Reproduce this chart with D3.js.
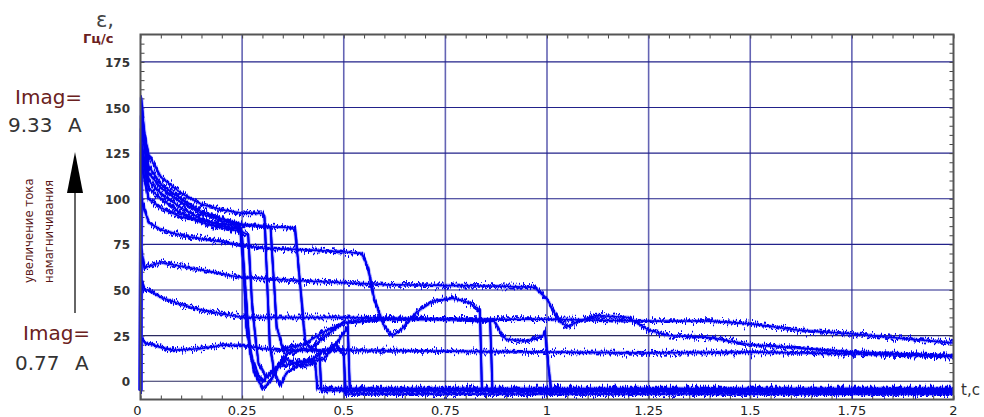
<!doctype html>
<html lang="ru">
<head>
<meta charset="UTF-8" />
<title>epsilon(t)</title>
<script src="https://d3js.org/d3.v7.min.js"></script>
<style>
  body { margin: 0; background: #fff; }
</style>
</head>
<body>
<div id="chart"></div>
<script>
// tick values
var xTicks = [0, 0.25, 0.5, 0.75, 1, 1.25, 1.5, 1.75, 2];
var xTickLabels = ['0', '0.25', '0.5', '0.75', '1', '1.25', '1.5', '1.75', '2'];
var yTicks = [0, 25, 50, 75, 100, 125, 150, 175];

// curves [t, eps], highest current first
var curve1 = [[0, -5], [0.002, 155], [0.01, 135], [0.02, 124], [0.05, 112], [0.1, 103], [0.15, 97], [0.2, 94], [0.25, 92], [0.3, 92], [0.305, 90], [0.318, 20], [0.33, 4], [0.345, -2], [0.36, 5], [0.4, 10], [0.45, 12], [0.48, 20], [0.505, 28], [0.51, 30], [0.515, -5], [1, -5], [2, -5]];
var curve2 = [[0, -5], [0.002, 145], [0.02, 118], [0.05, 108], [0.1, 100], [0.15, 93], [0.2, 89], [0.25, 86], [0.3, 85], [0.38, 84], [0.39, 60], [0.405, 22], [0.42, 18], [0.45, 24], [0.5, 32], [0.6, 34], [0.75, 34], [0.86, 33], [0.866, -5], [2, -6]];
var curve3 = [[0, -5], [0.002, 138], [0.02, 114], [0.05, 106], [0.1, 98], [0.15, 92], [0.2, 88], [0.24, 86], [0.25, 80], [0.26, 30], [0.28, 5], [0.3, -4], [0.32, 0], [0.34, 8], [0.38, 10], [0.42, 12], [0.44, 15], [0.445, -5], [2, -5]];
var curve4 = [[0, -5], [0.002, 130], [0.02, 110], [0.05, 103], [0.1, 95], [0.15, 89], [0.2, 85], [0.245, 83], [0.255, 60], [0.27, 15], [0.29, 3], [0.3, 0], [0.32, 5], [0.36, 12], [0.4, 8], [0.43, 10], [0.435, -4], [2, -4]];
var curve5 = [[0, -5], [0.002, 125], [0.02, 106], [0.05, 100], [0.1, 92], [0.15, 87], [0.2, 84], [0.25, 82], [0.265, 80], [0.275, 40], [0.29, 10], [0.31, 2], [0.33, 6], [0.36, 15], [0.4, 18], [0.45, 16], [0.48, 20], [0.5, 15], [0.505, -7], [2, -7]];
var curve6 = [[0, -5], [0.002, 120], [0.02, 100], [0.05, 95], [0.1, 90], [0.2, 86], [0.3, 85], [0.32, 84], [0.335, 30], [0.35, 18], [0.4, 20], [0.45, 27], [0.5, 32], [0.6, 34], [0.8, 34], [0.87, 33], [0.89, 25], [0.9, 23], [0.95, 22], [0.99, 25], [0.995, 27], [1.01, -5], [2, -5]];
var curve7 = [[0, -5], [0.002, 100], [0.02, 87], [0.05, 83], [0.1, 80], [0.15, 78], [0.2, 76.5], [0.25, 74.5], [0.3, 73], [0.4, 72], [0.5, 71], [0.545, 70], [0.56, 62], [0.575, 45], [0.6, 30], [0.62, 25], [0.64, 28], [0.68, 38], [0.72, 44], [0.77, 45.5], [0.81, 43], [0.835, 39], [0.84, -5], [2, -5]];
var curve8 = [[0, -5], [0.002, 72], [0.01, 62], [0.02, 63], [0.05, 65], [0.1, 63], [0.15, 61], [0.22, 58], [0.25, 57], [0.4, 55], [0.5, 54], [0.6, 53], [0.75, 52.5], [0.9, 52], [0.97, 51.5], [1.0, 45], [1.03, 33], [1.05, 30], [1.08, 33], [1.12, 36], [1.2, 35], [1.25, 28], [1.3, 25], [1.4, 24], [1.5, 20], [1.6, 18.5], [1.75, 16], [2, 14]];
var curve9 = [[0, -5], [0.002, 55], [0.01, 50], [0.02, 50], [0.05, 46], [0.1, 42], [0.15, 39], [0.2, 37], [0.25, 35], [0.5, 35], [0.75, 34], [1, 34], [1.25, 33], [1.4, 33], [1.5, 31.5], [1.62, 28], [1.75, 26], [1.87, 23.5], [2, 21]];
var curve10 = [[0, -5], [0.002, 24], [0.01, 21], [0.03, 20], [0.05, 18.6], [0.08, 17], [0.15, 18], [0.2, 19.7], [0.25, 19.7], [0.3, 18], [0.35, 17], [0.5, 17], [0.75, 16.5], [1, 16], [1.25, 15.5], [1.5, 16], [1.75, 15], [2, 13.5]];

document.addEventListener('DOMContentLoaded', function () {
  var width = 984, height = 417;
  var curves = [curve1, curve2, curve3, curve4, curve5, curve6, curve7, curve8, curve9, curve10];

  var svg = d3.select('#chart').append('svg')
    .attr('width', width)
    .attr('height', height)
    .style('display', 'block');

  var x = d3.scaleLinear().domain([0, 2]).range([140.5, 953.5]);
  var y = d3.scaleLinear().domain([-10, 190]).range([399.5, 34.5]);

  // jitter filters: shift the trace up/down column by column, like scope noise
  var defs = svg.append('defs');
  function jitter(id, seed, scale) {
    var f = defs.append('filter')
      .attr('id', id)
      .attr('filterUnits', 'userSpaceOnUse')
      .attr('x', 120).attr('y', 20).attr('width', 850).attr('height', 395);
    f.append('feTurbulence')
      .attr('type', 'fractalNoise')
      .attr('baseFrequency', '0.9 0.04')
      .attr('numOctaves', 2)
      .attr('seed', seed)
      .attr('result', 'noise');
    f.append('feColorMatrix')
      .attr('in', 'noise')
      .attr('type', 'matrix')
      .attr('values', '0 0 0 0 0.5  0 1 0 0 0  0 0 0 0 0  0 0 0 0 1')
      .attr('result', 'map');
    f.append('feDisplacementMap')
      .attr('in', 'SourceGraphic')
      .attr('in2', 'map')
      .attr('scale', scale)
      .attr('xChannelSelector', 'R')
      .attr('yChannelSelector', 'G');
  }
  jitter('jitterA', 7, 16);
  jitter('jitterB', 23, 12);

  // grid
  var grid = svg.append('g');
  grid.selectAll('.vgrid')
    .data(xTicks.slice(1, -1))
    .enter().append('line')
    .attr('x1', d => x(d)).attr('x2', d => x(d))
    .attr('y1', y(190)).attr('y2', y(-10))
    .attr('stroke', '#6464b4').attr('stroke-width', 1.6);
  grid.selectAll('.hgrid')
    .data(yTicks)
    .enter().append('line')
    .attr('x1', x(0)).attr('x2', x(2))
    .attr('y1', d => y(d)).attr('y2', d => y(d))
    .attr('stroke', d => d <= 25 ? '#2a2a60' : '#22228a').attr('stroke-width', 1.2);

  // minor ticks on the frame
  svg.append('g').attr('transform', 'translate(0,' + y(190) + ')')
    .call(d3.axisTop(x).ticks(40).tickSizeInner(-4).tickSizeOuter(0).tickFormat(''))
    .call(g => g.select('.domain').remove())
    .selectAll('line').attr('stroke', '#444');
  svg.append('g').attr('transform', 'translate(0,' + y(-10) + ')')
    .call(d3.axisBottom(x).ticks(40).tickSizeInner(-4).tickSizeOuter(0).tickFormat(''))
    .call(g => g.select('.domain').remove())
    .selectAll('line').attr('stroke', '#444');
  svg.append('g').attr('transform', 'translate(' + x(0) + ',0)')
    .call(d3.axisLeft(y).tickValues(d3.range(-5, 190, 5)).tickSizeInner(-4).tickSizeOuter(0).tickFormat(''))
    .call(g => g.select('.domain').remove())
    .selectAll('line').attr('stroke', '#444');
  svg.append('g').attr('transform', 'translate(' + x(2) + ',0)')
    .call(d3.axisRight(y).tickValues(d3.range(-5, 190, 5)).tickSizeInner(-4).tickSizeOuter(0).tickFormat(''))
    .call(g => g.select('.domain').remove())
    .selectAll('line').attr('stroke', '#444');

  // curves: faint band, two jittered traces, thin core
  var line = d3.line().x(d => x(d[0])).y(d => y(d[1]));
  var plot = svg.append('g');
  plot.selectAll('.halo')
    .data(curves)
    .enter().append('path')
    .attr('fill', 'none')
    .attr('stroke', '#2020ff')
    .attr('stroke-opacity', 0.35)
    .attr('stroke-width', 4)
    .attr('stroke-linejoin', 'round')
    .attr('d', line);
  ['jitterA', 'jitterB'].forEach(function (id) {
    plot.append('g')
      .attr('filter', 'url(#' + id + ')')
      .selectAll('path')
      .data(curves)
      .enter().append('path')
      .attr('fill', 'none')
      .attr('stroke', '#0000f0')
      .attr('stroke-width', 1.8)
      .attr('d', line);
  });
  plot.selectAll('.core')
    .data(curves)
    .enter().append('path')
    .attr('fill', 'none')
    .attr('stroke', '#0000f0')
    .attr('stroke-width', 1.5)
    .attr('stroke-linejoin', 'round')
    .attr('d', line);

  // frame
  svg.append('rect')
    .attr('x', x(0)).attr('y', y(190))
    .attr('width', x(2) - x(0)).attr('height', y(-10) - y(190))
    .attr('fill', 'none').attr('stroke', '#555').attr('stroke-width', 2);

  // tick labels
  svg.append('g').selectAll('text')
    .data(yTicks)
    .enter().append('text')
    .attr('x', 130).attr('y', d => y(d) + 5)
    .attr('text-anchor', 'end')
    .attr('font-family', 'DejaVu Sans, sans-serif')
    .attr('font-size', '12px').attr('font-weight', 'bold')
    .attr('fill', '#333')
    .text(d => d);
  svg.append('g').selectAll('text')
    .data(xTicks)
    .enter().append('text')
    .attr('x', (d, i) => x(d) - (i === 0 ? 3 : 0)).attr('y', 415)
    .attr('text-anchor', 'middle')
    .attr('font-family', 'DejaVu Sans, sans-serif')
    .attr('font-size', '13px')
    .attr('fill', '#222')
    .text((d, i) => xTickLabels[i]);

  // axis titles
  svg.append('text').attr('x', 96).attr('y', 27)
    .attr('font-family', 'DejaVu Sans, sans-serif').attr('font-size', '21px').attr('fill', '#444')
    .text('ε,');
  svg.append('text').attr('x', 83).attr('y', 43)
    .attr('font-family', 'DejaVu Sans, sans-serif').attr('font-size', '13px').attr('font-weight', 'bold')
    .attr('fill', '#6a2020')
    .text('Гц/с');
  svg.append('text').attr('x', 961).attr('y', 395)
    .attr('font-family', 'DejaVu Sans, sans-serif').attr('font-size', '15px').attr('fill', '#333')
    .text('t,c');

  // current labels and arrow
  var ann = svg.append('g').attr('font-family', 'DejaVu Sans, sans-serif').attr('font-size', '20px');
  ann.append('text').attr('x', 15).attr('y', 104).attr('fill', '#6a2020').text('Imag=');
  ann.append('text').attr('x', 8).attr('y', 132).attr('fill', '#333').attr('word-spacing', '9px').text('9.33 A');
  ann.append('text').attr('x', 23).attr('y', 340).attr('fill', '#6a2020').text('Imag=');
  ann.append('text').attr('x', 15).attr('y', 370).attr('fill', '#333').attr('word-spacing', '9px').text('0.77 A');

  ann.append('line')
    .attr('x1', 75).attr('x2', 75).attr('y1', 313).attr('y2', 190)
    .attr('stroke', '#333').attr('stroke-width', 1.5);
  ann.append('path')
    .attr('d', 'M75,152 L83,193 L67,193 Z')
    .attr('fill', '#000');

  var rot = ann.append('text')
    .attr('transform', 'translate(0,283) rotate(-90)')
    .attr('font-family', 'Liberation Sans Narrow, DejaVu Sans Condensed, sans-serif')
    .attr('font-size', '13px')
    .attr('fill', '#5a1818');
  rot.append('tspan').attr('x', 0).attr('y', 33).text('увеличение тока');
  rot.append('tspan').attr('x', 0).attr('y', 53).text('намагничивания');
});
</script>
</body>
</html>
